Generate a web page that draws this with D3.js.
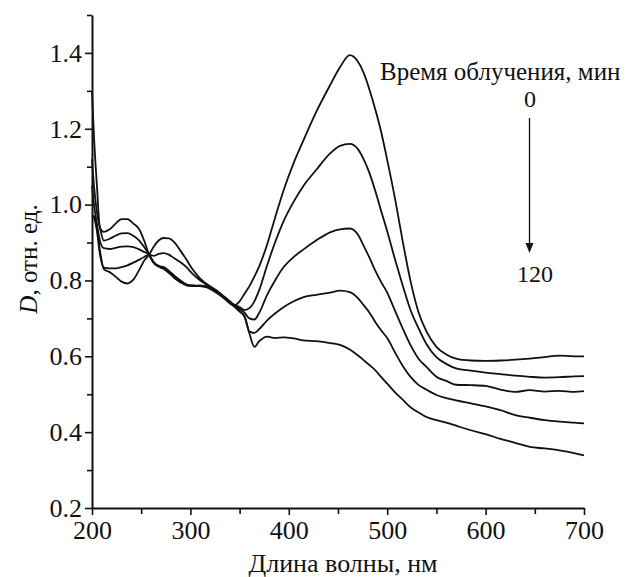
<!DOCTYPE html>
<html>
<head>
<meta charset="utf-8">
<script src="https://cdn.jsdelivr.net/npm/d3@7"></script>
<style>
  body { margin: 0; background: #fff; }
  text { font-family: "Liberation Serif", "DejaVu Serif", serif; fill: #111; }
</style>
</head>
<body>
<div id="chart"></div>
<script>
// длины волн, нм
const wavelengths = [200, 202, 205, 208, 212, 218, 224, 230, 236, 242, 248, 253, 258, 263, 268, 273, 278, 284, 290, 296,
  302, 310, 318, 326, 334, 340, 345, 350, 355, 360, 365, 370, 378, 386, 395, 405, 415, 428, 442, 452,
  462, 470, 476, 482, 488, 494, 500, 508, 516, 524, 532, 540, 550, 560, 570, 585, 600, 615, 630, 645,
  660, 675, 690, 700];

// спектры, D (от 0 до 120 мин облучения)
const curve0 = [0.97, 0.97, 0.94, 0.88, 0.83, 0.822, 0.81, 0.797, 0.792, 0.802, 0.828, 0.852, 0.868, 0.89, 0.906, 0.912, 0.911, 0.9, 0.878, 0.855,
  0.83, 0.805, 0.788, 0.775, 0.758, 0.745, 0.735, 0.745, 0.765, 0.785, 0.81, 0.838, 0.895, 0.965, 1.04, 1.11, 1.17, 1.245, 1.315, 1.362,
  1.394, 1.378, 1.348, 1.303, 1.25, 1.19, 1.118, 1.015, 0.9, 0.795, 0.715, 0.665, 0.625, 0.605, 0.594, 0.589, 0.588, 0.589, 0.591, 0.594,
  0.598, 0.602, 0.6, 0.6];
const curve1 = [0.97, 0.965, 0.93, 0.87, 0.834, 0.832, 0.832, 0.835, 0.84, 0.847, 0.855, 0.862, 0.868, 0.865, 0.87, 0.872, 0.868, 0.858, 0.848, 0.835,
  0.818, 0.8, 0.786, 0.773, 0.757, 0.744, 0.735, 0.73, 0.722, 0.727, 0.745, 0.775, 0.84, 0.9, 0.958, 1.008, 1.05, 1.092, 1.135, 1.155,
  1.16, 1.147, 1.12, 1.083, 1.035, 0.982, 0.93, 0.855, 0.785, 0.72, 0.673, 0.632, 0.598, 0.58, 0.568, 0.562, 0.557, 0.553, 0.549, 0.546,
  0.544, 0.545, 0.547, 0.548];
const curve2 = [1.05, 1.0, 0.95, 0.905, 0.885, 0.883, 0.886, 0.889, 0.89, 0.888, 0.882, 0.875, 0.868, 0.848, 0.838, 0.835, 0.826, 0.812, 0.8, 0.79,
  0.787, 0.786, 0.783, 0.772, 0.757, 0.742, 0.733, 0.725, 0.715, 0.7, 0.697, 0.715, 0.762, 0.8, 0.836, 0.862, 0.882, 0.906, 0.927, 0.935,
  0.937, 0.922, 0.892, 0.86, 0.825, 0.795, 0.768, 0.72, 0.672, 0.628, 0.593, 0.572, 0.546, 0.535, 0.525, 0.524, 0.522, 0.512, 0.506, 0.511,
  0.507, 0.509, 0.506, 0.508];
const curve3 = [1.12, 1.05, 0.98, 0.94, 0.905, 0.91, 0.918, 0.924, 0.925, 0.918, 0.905, 0.888, 0.868, 0.846, 0.838, 0.832, 0.822, 0.808, 0.797, 0.788,
  0.786, 0.785, 0.782, 0.77, 0.755, 0.741, 0.732, 0.72, 0.705, 0.665, 0.662, 0.672, 0.695, 0.713, 0.73, 0.745, 0.756, 0.762, 0.768, 0.773,
  0.769, 0.754, 0.735, 0.715, 0.69, 0.668, 0.648, 0.61, 0.574, 0.545, 0.524, 0.512, 0.498, 0.49, 0.484, 0.476, 0.468, 0.458, 0.445, 0.438,
  0.432, 0.428, 0.425, 0.423];
const curve4 = [1.3, 1.18, 1.05, 0.94, 0.928, 0.935, 0.95, 0.962, 0.962, 0.95, 0.935, 0.905, 0.868, 0.845, 0.836, 0.83, 0.82, 0.806, 0.795, 0.787,
  0.785, 0.787, 0.78, 0.768, 0.753, 0.74, 0.73, 0.718, 0.705, 0.66, 0.625, 0.64, 0.652, 0.648, 0.65, 0.647, 0.642, 0.64, 0.635, 0.63,
  0.618, 0.603, 0.59, 0.577, 0.563, 0.545, 0.528, 0.505, 0.485, 0.465, 0.452, 0.44, 0.432, 0.425, 0.417, 0.405, 0.395, 0.382, 0.372, 0.361,
  0.357, 0.352, 0.345, 0.339];

const xMajor = [200, 300, 400, 500, 600, 700];
const xMinor = [250, 350, 450, 550, 650];
const yMajor = [0.2, 0.4, 0.6, 0.8, 1.0, 1.2, 1.4];
const yMinor = [0.3, 0.5, 0.7, 0.9, 1.1, 1.3, 1.5];

const width = 634, height = 577;
const margin = { top: 15, right: 50, bottom: 69, left: 92 };

const svg = d3.select("#chart").append("svg")
  .attr("width", width)
  .attr("height", height);

const x = d3.scaleLinear().domain([200, 700]).range([margin.left, width - margin.right]);
const y = d3.scaleLinear().domain([0.2, 1.5]).range([height - margin.bottom, margin.top]);

// оси
const gx = svg.append("g").attr("transform", `translate(0,${height - margin.bottom})`);
gx.call(d3.axisBottom(x).tickValues(xMajor).tickFormat(d3.format("d")).tickSize(7).tickSizeOuter(0).tickPadding(6));
gx.append("g").call(d3.axisBottom(x).tickValues(xMinor).tickFormat("").tickSize(6).tickSizeOuter(0))
  .select(".domain").remove();

const gy = svg.append("g").attr("transform", `translate(${margin.left},0)`);
gy.call(d3.axisLeft(y).tickValues(yMajor).tickFormat(d3.format(".1f")).tickSize(7).tickSizeOuter(0).tickPadding(3));
gy.append("g").call(d3.axisLeft(y).tickValues(yMinor).tickFormat("").tickSize(5).tickSizeOuter(0))
  .select(".domain").remove();

svg.selectAll(".domain").attr("stroke", "#111").attr("stroke-width", 2);
svg.selectAll(".tick line").attr("stroke", "#111").attr("stroke-width", 1.6);
svg.selectAll(".tick text").attr("font-size", 26).attr("font-family", "Liberation Serif").attr("fill", "#111");

// кривые
const line = d3.line()
  .x((d, i) => x(wavelengths[i]))
  .y(d => y(d))
  .curve(d3.curveMonotoneX);

svg.append("g")
  .attr("fill", "none")
  .attr("stroke", "#111")
  .attr("stroke-width", 1.8)
  .selectAll("path")
  .data([curve0, curve1, curve2, curve3, curve4])
  .join("path")
  .attr("d", line);

// подписи осей
svg.append("text")
  .attr("x", 343)
  .attr("y", 572)
  .attr("text-anchor", "middle")
  .attr("font-size", 26)
  .text("Длина волны, нм");

const ylab = svg.append("text")
  .attr("transform", "translate(37,259) rotate(-90)")
  .attr("text-anchor", "middle")
  .attr("font-size", 25);
ylab.append("tspan").attr("font-style", "italic").text("D");
ylab.append("tspan").text(", отн. ед.");

// легенда времени облучения
svg.append("text")
  .attr("x", 380)
  .attr("y", 80)
  .attr("font-size", 25)
  .text("Время облучения, мин");

svg.append("text")
  .attr("x", 530)
  .attr("y", 107)
  .attr("text-anchor", "middle")
  .attr("font-size", 24)
  .text("0");

svg.append("line")
  .attr("x1", 529.5).attr("x2", 529.5)
  .attr("y1", 118).attr("y2", 244)
  .attr("stroke", "#111")
  .attr("stroke-width", 1.3);

svg.append("path")
  .attr("d", "M525.5,243 L533.5,243 L529.5,253 Z")
  .attr("fill", "#111");

svg.append("text")
  .attr("x", 535)
  .attr("y", 282)
  .attr("text-anchor", "middle")
  .attr("font-size", 24)
  .text("120");
</script>
</body>
</html>
